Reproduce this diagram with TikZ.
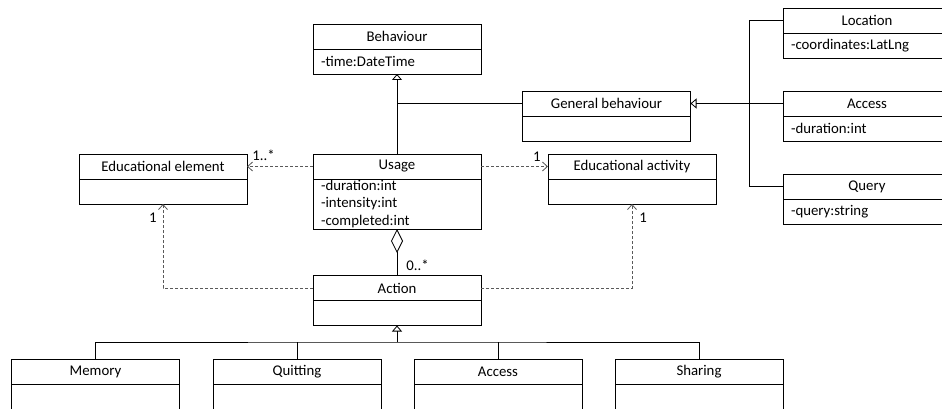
\documentclass[tikz,border=0pt]{standalone}
\usepackage{fontspec}
\setmainfont{Carlito}
\usetikzlibrary{positioning,arrows.meta}
\tikzset{
  hdr/.style={draw,line width=0.9pt,minimum width=168pt,minimum height=25pt,inner sep=0pt,outer sep=0pt},
  body/.style={draw,line width=0.9pt,below=0pt of #1,minimum width=168pt,minimum height=25pt,
    text width=152pt,inner xsep=8pt,inner ysep=0pt,outer sep=0pt,align=left},
  inh/.style={line width=0.8pt,-{Triangle[open,length=6pt,width=10pt]}},
  dep/.style={line width=0.8pt,black!65,dash pattern=on 3pt off 2pt,-{Straight Barb[length=5pt,width=9pt]}},
  agg/.style={line width=0.8pt,-{Diamond[open,length=24pt,width=12pt]}},
  mult/.style={inner sep=1pt,text=black}
}
\def\classfont{\fontsize{14.8}{17.5}\selectfont}

\begin{document}
\begin{tikzpicture}[x=1pt,y=1pt,font=\classfont]
\useasboundingbox (0,0) rectangle (942,-409);

\node[hdr] (beh) at (397,-36.5) {Behaviour};
\node[body=beh] (beh-b) {-time:DateTime};
\node[hdr] (usage) at (397,-166.5) {Usage};
\node[body=usage,minimum height=50pt] (usage-b) {-duration:int\\-intensity:int\\-completed:int};
\node[hdr] (eduel) at (163,-166.5) {Educational element};
\node[body=eduel] (eduel-b) {};
\node[hdr] (eduact) at (632,-166.5) {Educational activity};
\node[body=eduact] (eduact-b) {};
\node[hdr] (genbeh) at (606.5,-103.5) {General behaviour};
\node[body=genbeh] (genbeh-b) {};

\node[hdr] (loc) at (867,-20.5) {Location};
\node[body=loc] (loc-b) {-coordinates:LatLng};
\node[hdr] (acc) at (867,-103.5) {Access};
\node[body=acc] (acc-b) {-duration:int};
\node[hdr] (query) at (867,-186.5) {Query};
\node[body=query] (query-b) {-query:string};

\node[hdr] (action) at (397,-288) {Action};
\node[body=action] (action-b) {};
\node[hdr] (mem) at (95.5,-371.5) {Memory};
\node[body=mem] (mem-b) {};
\node[hdr] (quit) at (297,-371.5) {Quitting};
\node[body=quit] (quit-b) {};
\node[hdr] (access) at (498,-371.5) {Access};
\node[body=access] (access-b) {};
\node[hdr] (share) at (699,-371.5) {Sharing};
\node[body=share] (share-b) {};

\coordinate (jn) at (749,-103.5);
\coordinate (split) at (397,-342);

\draw[inh] (usage.north) -- (beh-b.south);
\draw[line width=0.8pt] (genbeh.west) -- (genbeh.west -| usage.north);
\draw[inh] (acc.west) -- (genbeh.east);
\draw[line width=0.8pt] (loc.west) -| (jn) |- (query.west);

\draw[dep] (usage.west) -- (eduel.east) node[pos=1,above right,mult,xshift=4pt,yshift=4pt] {1..*};
\draw[dep] (usage.east) -- (eduact.west) node[pos=1,above left,mult,xshift=-6pt,yshift=4pt] {1};
\draw[dep] (action.west) -| (eduel-b.south) node[pos=1,below left,mult,xshift=-5pt,yshift=-8pt] {1};
\draw[dep] (action.east) -| (eduact-b.south) node[pos=1,below right,mult,xshift=6pt,yshift=-8pt] {1};
\draw[agg] (action.north) -- (usage-b.south) node[pos=0,above right,mult,xshift=8pt,yshift=3pt] {0..*};

\draw[inh] (split) -- (action-b.south);
\draw[line width=0.8pt] (mem.north) |- (split) -| (share.north);
\draw[line width=0.8pt] (quit.north) -- (quit.north |- split);
\draw[line width=0.8pt] (access.north) -- (access.north |- split);
\end{tikzpicture}
\end{document}
